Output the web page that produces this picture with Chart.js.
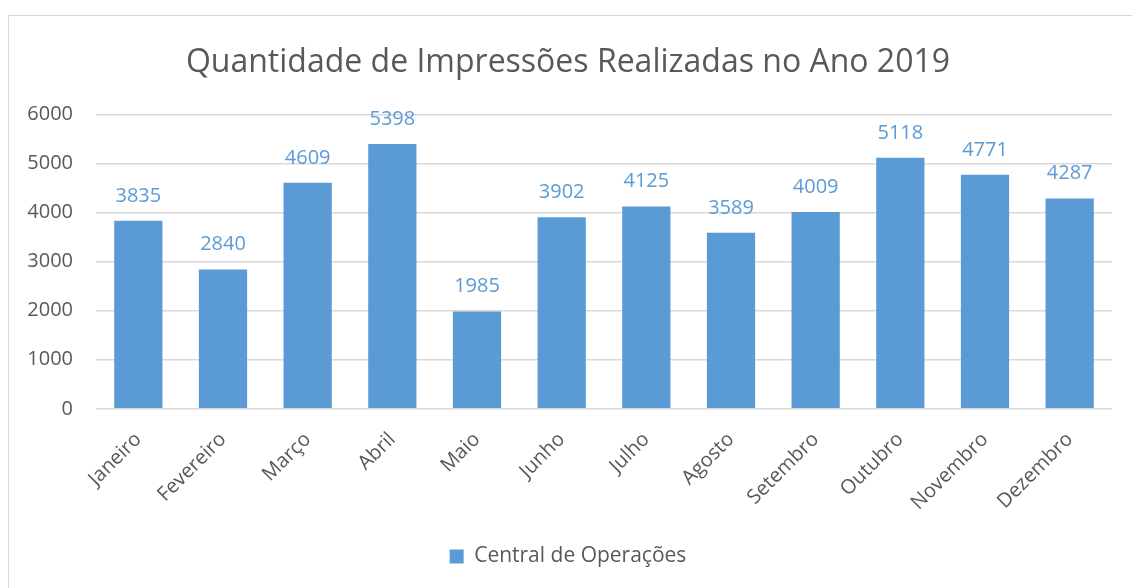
<!DOCTYPE html>
<html>
<head>
<meta charset="utf-8">
<script src="https://cdn.jsdelivr.net/npm/chart.js@4.4.0/dist/chart.umd.min.js"></script>
<style>
    body { margin: 0; background: #ffffff; }
    #wrap { position: relative; width: 1132px; height: 588px; overflow: hidden; }
    #frame { position: absolute; left: 8px; top: 15px; width: 1200px; height: 700px; border: 1px solid #d9d9d9; }
    #chart { position: absolute; left: 0; top: 0; }
</style>
</head>
<body>
<div id="wrap">
    <div id="frame"></div>
    <canvas id="chart" width="1132" height="588"></canvas>
</div>
<script>
const months = ["Janeiro", "Fevereiro", "Março", "Abril", "Maio", "Junho", "Julho", "Agosto", "Setembro", "Outubro", "Novembro", "Dezembro"];
const impressions = [3835, 2840, 4609, 5398, 1985, 3902, 4125, 3589, 4009, 5118, 4771, 4287];
const seriesName = "Central de Operações";
const chartTitle = "Quantidade de Impressões Realizadas no Ano 2019";

const barColor = "#5b9bd5";
const textColor = "#595959";
const gridColor = "#d9d9d9";
const fontFamily = "'Open Sans', sans-serif";

// draws the value above each bar
const valueLabels = {
    id: 'valueLabels',
    afterDatasetsDraw(chart) {
        const ctx = chart.ctx;
        const meta = chart.getDatasetMeta(0);
        ctx.save();
        ctx.font = "20px " + fontFamily;
        ctx.fillStyle = barColor;
        ctx.textAlign = "center";
        ctx.textBaseline = "alphabetic";
        meta.data.forEach((bar, i) => {
            ctx.fillText(impressions[i], bar.x, bar.y - 19);
        });
        ctx.restore();
    }
};

new Chart(document.getElementById('chart'), {
    type: 'bar',
    data: {
        labels: months,
        datasets: [{
            label: seriesName,
            data: impressions,
            backgroundColor: barColor,
            borderWidth: 0,
            barPercentage: 0.57,
            categoryPercentage: 1
        }]
    },
    options: {
        responsive: false,
        devicePixelRatio: 1,
        animation: false,
        layout: {
            padding: { left: 24, right: 20, top: 44, bottom: 11 }
        },
        scales: {
            y: {
                min: 0,
                max: 6000,
                ticks: {
                    stepSize: 1000,
                    color: textColor,
                    padding: 23,
                    font: { family: fontFamily, size: 20 },
                    callback: (value) => String(value)
                },
                grid: { color: gridColor, lineWidth: 1.5, drawTicks: false },
                border: { display: false },
                afterFit(scale) { scale.width = 72; }
            },
            x: {
                ticks: {
                    color: textColor,
                    minRotation: 45,
                    maxRotation: 45,
                    padding: 11,
                    font: { family: fontFamily, size: 20 }
                },
                grid: { display: false },
                border: { display: false },
                afterFit(scale) { scale.height += 10; }
            }
        },
        plugins: {
            title: {
                display: true,
                text: chartTitle,
                color: textColor,
                font: { family: fontFamily, size: 32, weight: 'normal' },
                padding: { top: 0, bottom: 32 }
            },
            legend: {
                position: 'bottom',
                labels: {
                    color: textColor,
                    boxWidth: 14,
                    boxHeight: 14,
                    padding: 10,
                    font: { family: fontFamily, size: 21 }
                }
            },
            tooltip: { enabled: false }
        }
    },
    plugins: [valueLabels]
});
</script>
</body>
</html>
